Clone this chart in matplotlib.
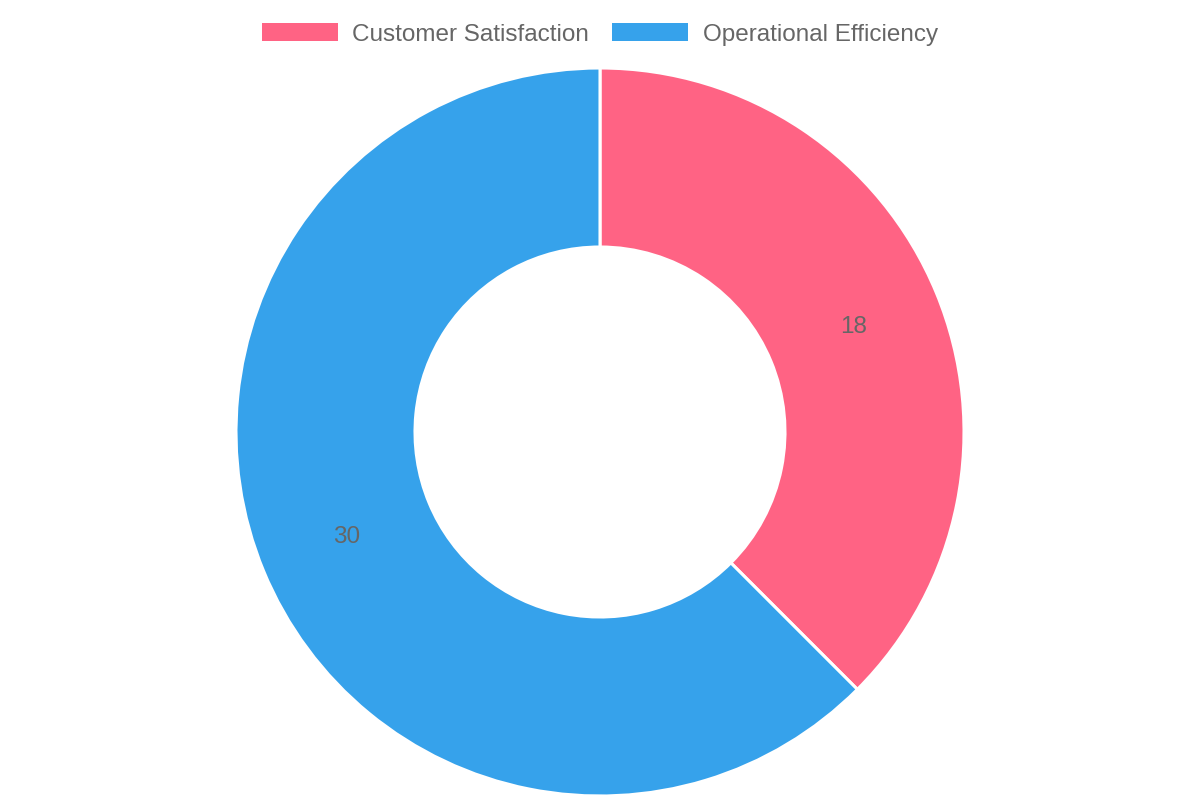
import matplotlib.pyplot as plt
from matplotlib.patches import Patch
import numpy as np

labels = ['Customer Satisfaction', 'Operational Efficiency']
values = [18, 30]
colors = ['#FF6384', '#36A2EB']

plt.rcParams['font.family'] = ['Liberation Sans', 'DejaVu Sans']

fig = plt.figure(figsize=(12, 8), dpi=100)
ax = fig.add_axes([0, 0, 1, 1])

# pixel-like data coords: donut centre at (0, 0)
R = 364
wedges, _ = ax.pie(values, colors=colors, startangle=90, counterclock=False,
                   radius=R, wedgeprops=dict(width=R - 185, edgecolor='white', linewidth=2.2))

# value labels in the middle of each ring segment
total = sum(values)
start = 90.0
rmid = R - (R - 185) / 2
for v in values:
    mid = np.deg2rad(start - v / total * 180)
    ax.text(rmid * np.cos(mid), rmid * np.sin(mid), str(v), ha='center', va='center',
            fontsize=17.5, color='#666666')
    start -= v / total * 360

ax.set_xlim(-600, 600)
ax.set_ylim(-368, 432)
ax.set_aspect('equal')
ax.axis('off')

handles = [Patch(facecolor=c, edgecolor='none') for c in colors]
fig.legend(handles, labels, loc='upper center', bbox_to_anchor=(0.5, 0.998), ncol=2,
           frameon=False, fontsize=17.5, labelcolor='#666666',
           handlelength=3.13, handleheight=0.74, handletextpad=0.58, columnspacing=0.95)

fig.savefig('out.png')
